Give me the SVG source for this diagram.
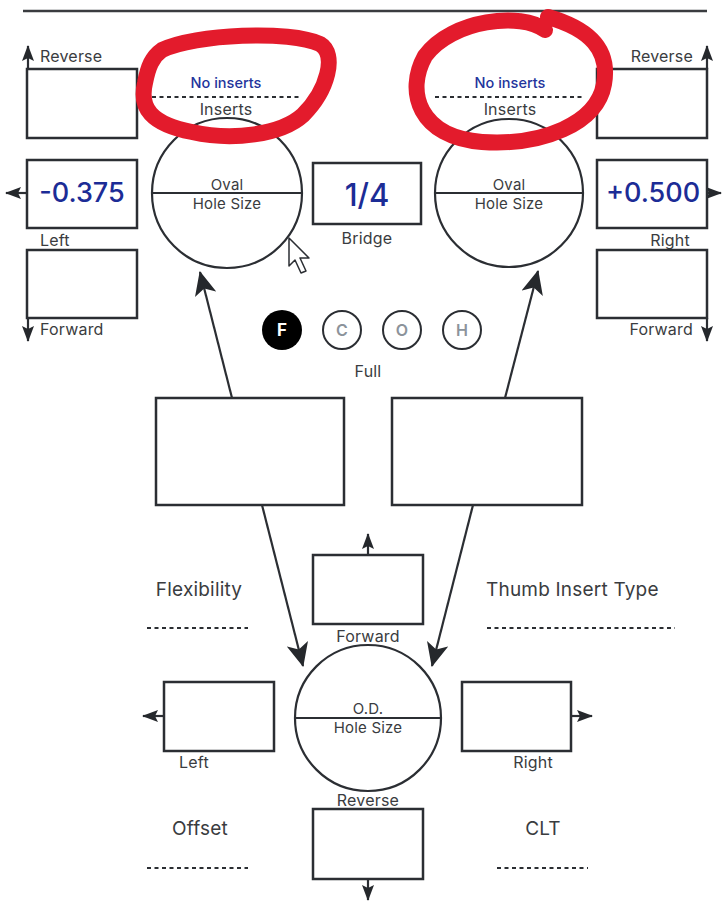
<svg xmlns="http://www.w3.org/2000/svg" width="723" height="902" viewBox="0 0 723 902">
<style>
.box{fill:#fff;stroke:#2b2e33;stroke-width:2.5}
.circ{fill:none;stroke:#2b2e33;stroke-width:2.2}
.ln{stroke:#2b2e33;stroke-width:2.2;fill:none}
.lbl{font-family:Inter,"Liberation Sans",sans-serif;font-size:16px;fill:#3a3c40;letter-spacing:0.2px}
.cl{font-family:Inter,"Liberation Sans",sans-serif;font-size:15px;fill:#3a3c40;letter-spacing:0.2px}
.big{font-family:Inter,"Liberation Sans",sans-serif;font-size:19px;fill:#3a3c40;letter-spacing:0.2px}
.val{font-family:Inter,"Liberation Sans",sans-serif;font-weight:500;fill:#1c2c96}
.blue{font-family:Inter,"Liberation Sans",sans-serif;font-size:14.5px;font-weight:500;fill:#23349c}
.dot{stroke:#2b2e33;stroke-width:2.2;stroke-dasharray:4 3.5;fill:none}
.red{fill:none;stroke:#e31b2c;stroke-width:16;stroke-linecap:round;stroke-linejoin:round}
.opt{fill:#fff;stroke:#2b2e33;stroke-width:2}
.optt{font-family:Inter,"Liberation Sans",sans-serif;font-size:16px;font-weight:600;fill:#8c939b}
</style>
<defs>
<marker id="ah" markerUnits="userSpaceOnUse" viewBox="0 0 24 22" refX="23" refY="11" markerWidth="24" markerHeight="22" orient="auto"><path d="M24,11 L0,0 L6,11 L0,22 Z" fill="#25282c"/></marker>
<marker id="as" markerUnits="userSpaceOnUse" viewBox="0 0 16 12" refX="15" refY="6" markerWidth="16" markerHeight="12" orient="auto"><path d="M16,6 L0,0 L3,6 L0,12 Z" fill="#25282c"/></marker>
</defs>
<line x1="23" y1="11" x2="707" y2="11" stroke="#3a3c40" stroke-width="2.5"/>

<g id="connectors">
<line class="ln" x1="232" y1="398" x2="200" y2="272" marker-end="url(#ah)"/>
<line class="ln" x1="505" y1="398" x2="538" y2="271" marker-end="url(#ah)"/>
<line class="ln" x1="262" y1="505" x2="303" y2="666" marker-end="url(#ah)"/>
<line class="ln" x1="473" y1="505" x2="432" y2="666" marker-end="url(#ah)"/>
<line class="ln" x1="28" y1="69" x2="28" y2="46" marker-end="url(#as)"/>
<line class="ln" x1="27" y1="193" x2="6" y2="193" marker-end="url(#as)"/>
<line class="ln" x1="28" y1="318" x2="28" y2="341" marker-end="url(#as)"/>
<line class="ln" x1="707" y1="69" x2="707" y2="46" marker-end="url(#as)"/>
<line class="ln" x1="707" y1="193" x2="721" y2="193" marker-end="url(#as)"/>
<line class="ln" x1="707" y1="318" x2="707" y2="341" marker-end="url(#as)"/>
<line class="ln" x1="368" y1="555" x2="368" y2="534" marker-end="url(#as)"/>
<line class="ln" x1="164" y1="716" x2="143" y2="716" marker-end="url(#as)"/>
<line class="ln" x1="571" y1="716" x2="592" y2="716" marker-end="url(#as)"/>
<line class="ln" x1="368" y1="879" x2="368" y2="900" marker-end="url(#as)"/>
</g>

<g id="rev-left"><rect class="box" x="27" y="69" width="110" height="69"/><text class="lbl" x="40" y="62">Reverse</text></g>
<g id="val-left"><rect class="box" x="27" y="160" width="110" height="68"/><text class="val" x="82" y="202" font-size="27" text-anchor="middle">-0.375</text><text class="lbl" x="40" y="246">Left</text></g>
<g id="fwd-left"><rect class="box" x="27" y="250" width="110" height="68"/><text class="lbl" x="40" y="335">Forward</text></g>

<g id="oval-left"><circle class="circ" cx="227" cy="193" r="75"/><line class="ln" x1="152" y1="193" x2="302" y2="193"/>
<text class="cl" x="227" y="190" text-anchor="middle">Oval</text><text class="cl" x="227" y="209" text-anchor="middle">Hole Size</text></g>
<g id="ins-left"><text class="blue" x="226" y="88" text-anchor="middle">No inserts</text><line class="dot" x1="152" y1="97" x2="300" y2="97"/><text class="lbl" x="226" y="115" text-anchor="middle">Inserts</text></g>

<g id="bridge"><rect class="box" x="313" y="163" width="108" height="61"/><text class="val" x="367" y="206" font-size="31" text-anchor="middle">1/4</text><text class="lbl" x="367" y="244" text-anchor="middle">Bridge</text></g>

<g id="oval-right"><circle class="circ" cx="509" cy="193" r="74"/><line class="ln" x1="435" y1="193" x2="583" y2="193"/>
<text class="cl" x="509" y="190" text-anchor="middle">Oval</text><text class="cl" x="509" y="209" text-anchor="middle">Hole Size</text></g>
<g id="ins-right"><text class="blue" x="510" y="88" text-anchor="middle">No inserts</text><line class="dot" x1="435" y1="97" x2="582" y2="97"/><text class="lbl" x="510" y="115" text-anchor="middle">Inserts</text></g>

<g id="rev-right"><rect class="box" x="597" y="69" width="110" height="69"/><text class="lbl" x="693" y="62" text-anchor="end">Reverse</text></g>
<g id="val-right"><rect class="box" x="597" y="160" width="110" height="68"/><text class="val" x="653" y="202" font-size="27" text-anchor="middle">+0.500</text><text class="lbl" x="670" y="246" text-anchor="middle">Right</text></g>
<g id="fwd-right"><rect class="box" x="597" y="250" width="110" height="68"/><text class="lbl" x="693" y="335" text-anchor="end">Forward</text></g>

<g id="cursor"><path d="M289,238 L289,266 L295,260 L301,273 L306,271 L300,258 L309,258 Z" fill="#fff" stroke="#2b2e33" stroke-width="1.5" stroke-linejoin="round"/></g>

<g id="grip">
<circle cx="282" cy="330" r="20" fill="#000"/><text x="282" y="336" font-family="Inter,'Liberation Sans',sans-serif" font-size="17" font-weight="700" fill="#fff" text-anchor="middle">F</text>
<circle class="opt" cx="342" cy="330" r="19"/><text class="optt" x="342" y="336" text-anchor="middle">C</text>
<circle class="opt" cx="402" cy="330" r="19"/><text class="optt" x="402" y="336" text-anchor="middle">O</text>
<circle class="opt" cx="462" cy="330" r="19"/><text class="optt" x="462" y="336" text-anchor="middle">H</text>
<text class="lbl" x="368" y="377" text-anchor="middle">Full</text>
</g>

<g id="mid-left"><rect class="box" x="156" y="398" width="188" height="107"/></g>
<g id="mid-right"><rect class="box" x="392" y="398" width="190" height="107"/></g>

<g id="flex"><text class="big" x="199" y="596" text-anchor="middle">Flexibility</text><line class="dot" x1="147" y1="628" x2="248" y2="628"/></g>
<g id="thumb"><text class="big" x="486" y="596">Thumb Insert Type</text><line class="dot" x1="487" y1="628" x2="675" y2="628"/></g>
<g id="offset"><text class="big" x="200" y="835" text-anchor="middle">Offset</text><line class="dot" x1="147" y1="868" x2="248" y2="868"/></g>
<g id="clt"><text class="big" x="543" y="835" text-anchor="middle">CLT</text><line class="dot" x1="497" y1="868" x2="588" y2="868"/></g>

<g id="fwd-bottom"><rect class="box" x="313" y="555" width="110" height="69"/><text class="lbl" x="368" y="642" text-anchor="middle">Forward</text></g>
<g id="od"><circle class="circ" cx="368" cy="718" r="73"/><line class="ln" x1="295" y1="718" x2="441" y2="718"/>
<text class="cl" x="368" y="714" text-anchor="middle">O.D.</text><text class="cl" x="368" y="733" text-anchor="middle">Hole Size</text></g>
<g id="left-bottom"><rect class="box" x="164" y="682" width="110" height="69"/><text class="lbl" x="194" y="768" text-anchor="middle">Left</text></g>
<g id="right-bottom"><rect class="box" x="462" y="682" width="109" height="69"/><text class="lbl" x="533" y="768" text-anchor="middle">Right</text></g>
<g id="rev-bottom"><rect class="box" x="313" y="809" width="110" height="70"/><text class="lbl" x="368" y="806" text-anchor="middle">Reverse</text></g>

<g id="highlights">
<path class="red" d="M162,50 C195,34 290,30 320,44 C337,54 328,90 303,115 C281,135 232,141 192,132 C151,124 139,108 145,83 C148,67 152,57 162,50 Z"/>
<path class="red" d="M545,30 C522,12 452,19 425,56 C405,92 419,137 482,142 C542,146 597,124 604,84 C610,50 590,29 548,17"/>
</g>
</svg>
